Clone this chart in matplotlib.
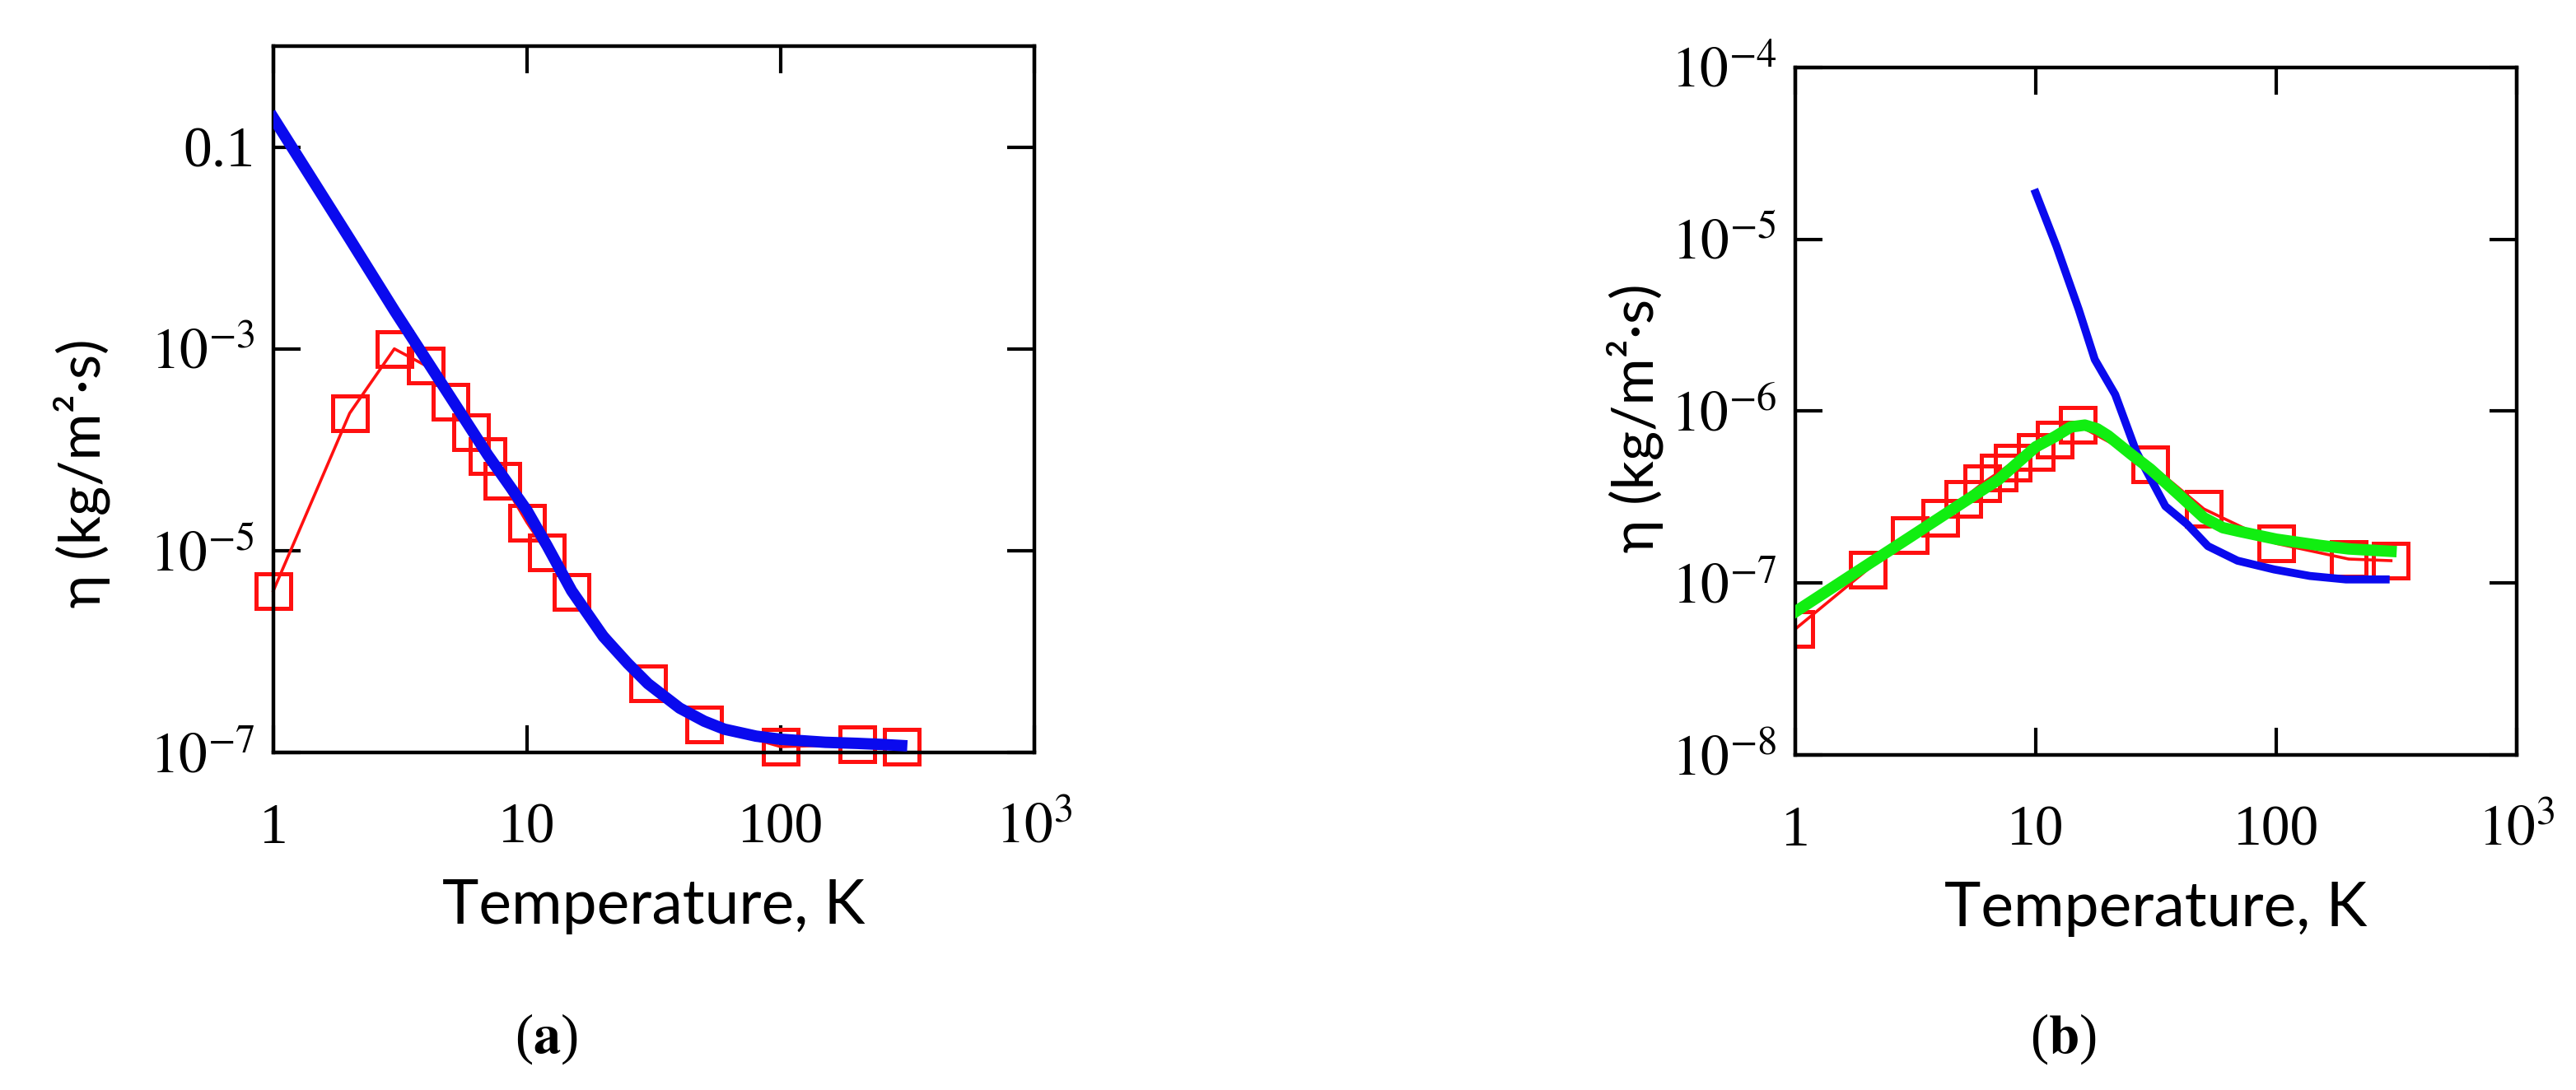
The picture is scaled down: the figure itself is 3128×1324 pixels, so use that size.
import numpy as np
import matplotlib
matplotlib.use("Agg")
import matplotlib.pyplot as plt

plt.rcParams['mathtext.fontset'] = 'stix'
plt.rcParams['font.family'] = ['Liberation Serif', 'DejaVu Serif']

# ---- panel (a) data ----
a_sq_T = [1, 2, 3, 4, 5, 6, 7, 8, 10, 12, 15, 30, 50, 100, 200, 300]
a_sq_eta = [4.0e-6, 2.3e-4, 1.0e-3, 6.8e-4, 3.0e-4, 1.5e-4, 8.7e-5, 4.9e-5,
            1.9e-5, 9.6e-6, 3.9e-6, 4.8e-7, 1.9e-7, 1.14e-7, 1.2e-7, 1.14e-7]
a_line_T = [1, 2, 3, 5, 7, 10, 12, 15, 20, 25, 30, 40, 50, 60, 80, 100, 150, 200, 250, 300]
a_line_eta = [1.95e-1, 1.23e-2, 2.4e-3, 3.3e-4, 8.9e-5, 2.5e-5, 1.12e-5, 4.0e-6,
              1.41e-6, 7.6e-7, 4.8e-7, 2.75e-7, 2.04e-7, 1.7e-7, 1.45e-7,
              1.35e-7, 1.26e-7, 1.23e-7, 1.2e-7, 1.17e-7]

# ---- panel (b) data ----
b_sq_T = [1, 2, 3, 4, 5, 6, 7, 8, 10, 12, 15, 30, 50, 100, 200, 300]
b_sq_eta = [5.4e-8, 1.2e-7, 1.9e-7, 2.4e-7, 3.1e-7, 3.8e-7, 4.4e-7, 5.0e-7,
            5.8e-7, 6.8e-7, 8.3e-7, 4.9e-7, 2.7e-7, 1.7e-7, 1.38e-7, 1.35e-7]
b_green_T = [1, 2, 3, 5, 7, 10, 12, 14, 16, 18, 20, 25, 30, 40, 50, 60, 70, 100, 150, 200, 300]
b_green_eta = [6.8e-8, 1.28e-7, 1.85e-7, 2.95e-7, 4.0e-7, 6.2e-7, 7.1e-7, 8.1e-7,
               8.3e-7, 7.9e-7, 7.2e-7, 5.6e-7, 4.6e-7, 3.2e-7, 2.4e-7, 2.1e-7,
               2.0e-7, 1.8e-7, 1.66e-7, 1.58e-7, 1.53e-7]
b_blue_T = [10, 12.2, 15.1, 17.6, 21.4, 26.2, 34.6, 42.6, 52, 69, 98, 138, 195, 285]
b_blue_eta = [1.86e-5, 9.1e-6, 3.9e-6, 2.0e-6, 1.25e-6, 5.8e-7, 2.8e-7, 2.2e-7,
              1.64e-7, 1.35e-7, 1.2e-7, 1.1e-7, 1.05e-7, 1.05e-7]

x_ticks = [1, 10, 100, 1000]
x_labels = ['1', '10', '100', r'$10^{3}$']

fig = plt.figure(figsize=(15.64, 6.62), dpi=200)
ax1 = fig.add_axes([0.1061, 0.3097, 0.2954, 0.648])
ax2 = fig.add_axes([0.6969, 0.3074, 0.2801, 0.6307])

for ax, ylc in ((ax1, (-0.252, 0.395)), (ax2, (-0.222, 0.49))):
    ax.set_xscale('log')
    ax.set_yscale('log')
    ax.set_xlim(1, 1000)
    ax.set_xticks(x_ticks)
    ax.set_xticklabels(x_labels)
    ax.minorticks_off()
    ax.tick_params(direction='in', length=12, width=1.5, top=True, right=True,
                   labelsize=25)
    ax.tick_params(axis='x', pad=22)
    ax.tick_params(axis='y', pad=8)
    for s in ax.spines.values():
        s.set_linewidth(1.6)
    ax.set_xlabel('Temperature, K', family='Lato', fontsize=27, labelpad=10)
    ax.set_ylabel('η (kg/m²·s)', family='Lato', fontsize=25, va='center')
    ax.yaxis.set_label_coords(*ylc)

# (a)
ax1.plot(a_sq_T, a_sq_eta, color='#ff1010', lw=1.3, marker='s', ms=15,
         mfc='none', mec='#ff1010', mew=1.8, zorder=2, clip_on=False)
ax1.plot(a_line_T, a_line_eta, color='#0a0aee', lw=5.0, zorder=3)
ax1.set_ylim(1e-7, 1)
ax1.set_yticks([1e-7, 1e-5, 1e-3, 0.1])
ax1.set_yticklabels([r'$10^{-7}$', r'$10^{-5}$', r'$10^{-3}$', '0.1'])
ax1.minorticks_off()

# (b)
ax2.plot(b_sq_T, b_sq_eta, color='#ff1010', lw=1.3, marker='s', ms=15,
         mfc='none', mec='#ff1010', mew=1.8, zorder=2)
ax2.plot(b_blue_T, b_blue_eta, color='#0a0aee', lw=3.5, zorder=3)
ax2.plot(b_green_T, b_green_eta, color='#11ee11', lw=5.0, zorder=4)
ax2.set_ylim(1e-8, 1e-4)
ax2.set_yticks([1e-8, 1e-7, 1e-6, 1e-5, 1e-4])
ax2.set_yticklabels([r'$10^{-8}$', r'$10^{-7}$', r'$10^{-6}$', r'$10^{-5}$', r'$10^{-4}$'])
ax2.minorticks_off()

fig.text(0.212, 0.047, r'($\mathbf{a}$)', ha='center', va='center', fontsize=24)
fig.text(0.801, 0.047, r'($\mathbf{b}$)', ha='center', va='center', fontsize=24)

fig.savefig('out.png', dpi=200)
